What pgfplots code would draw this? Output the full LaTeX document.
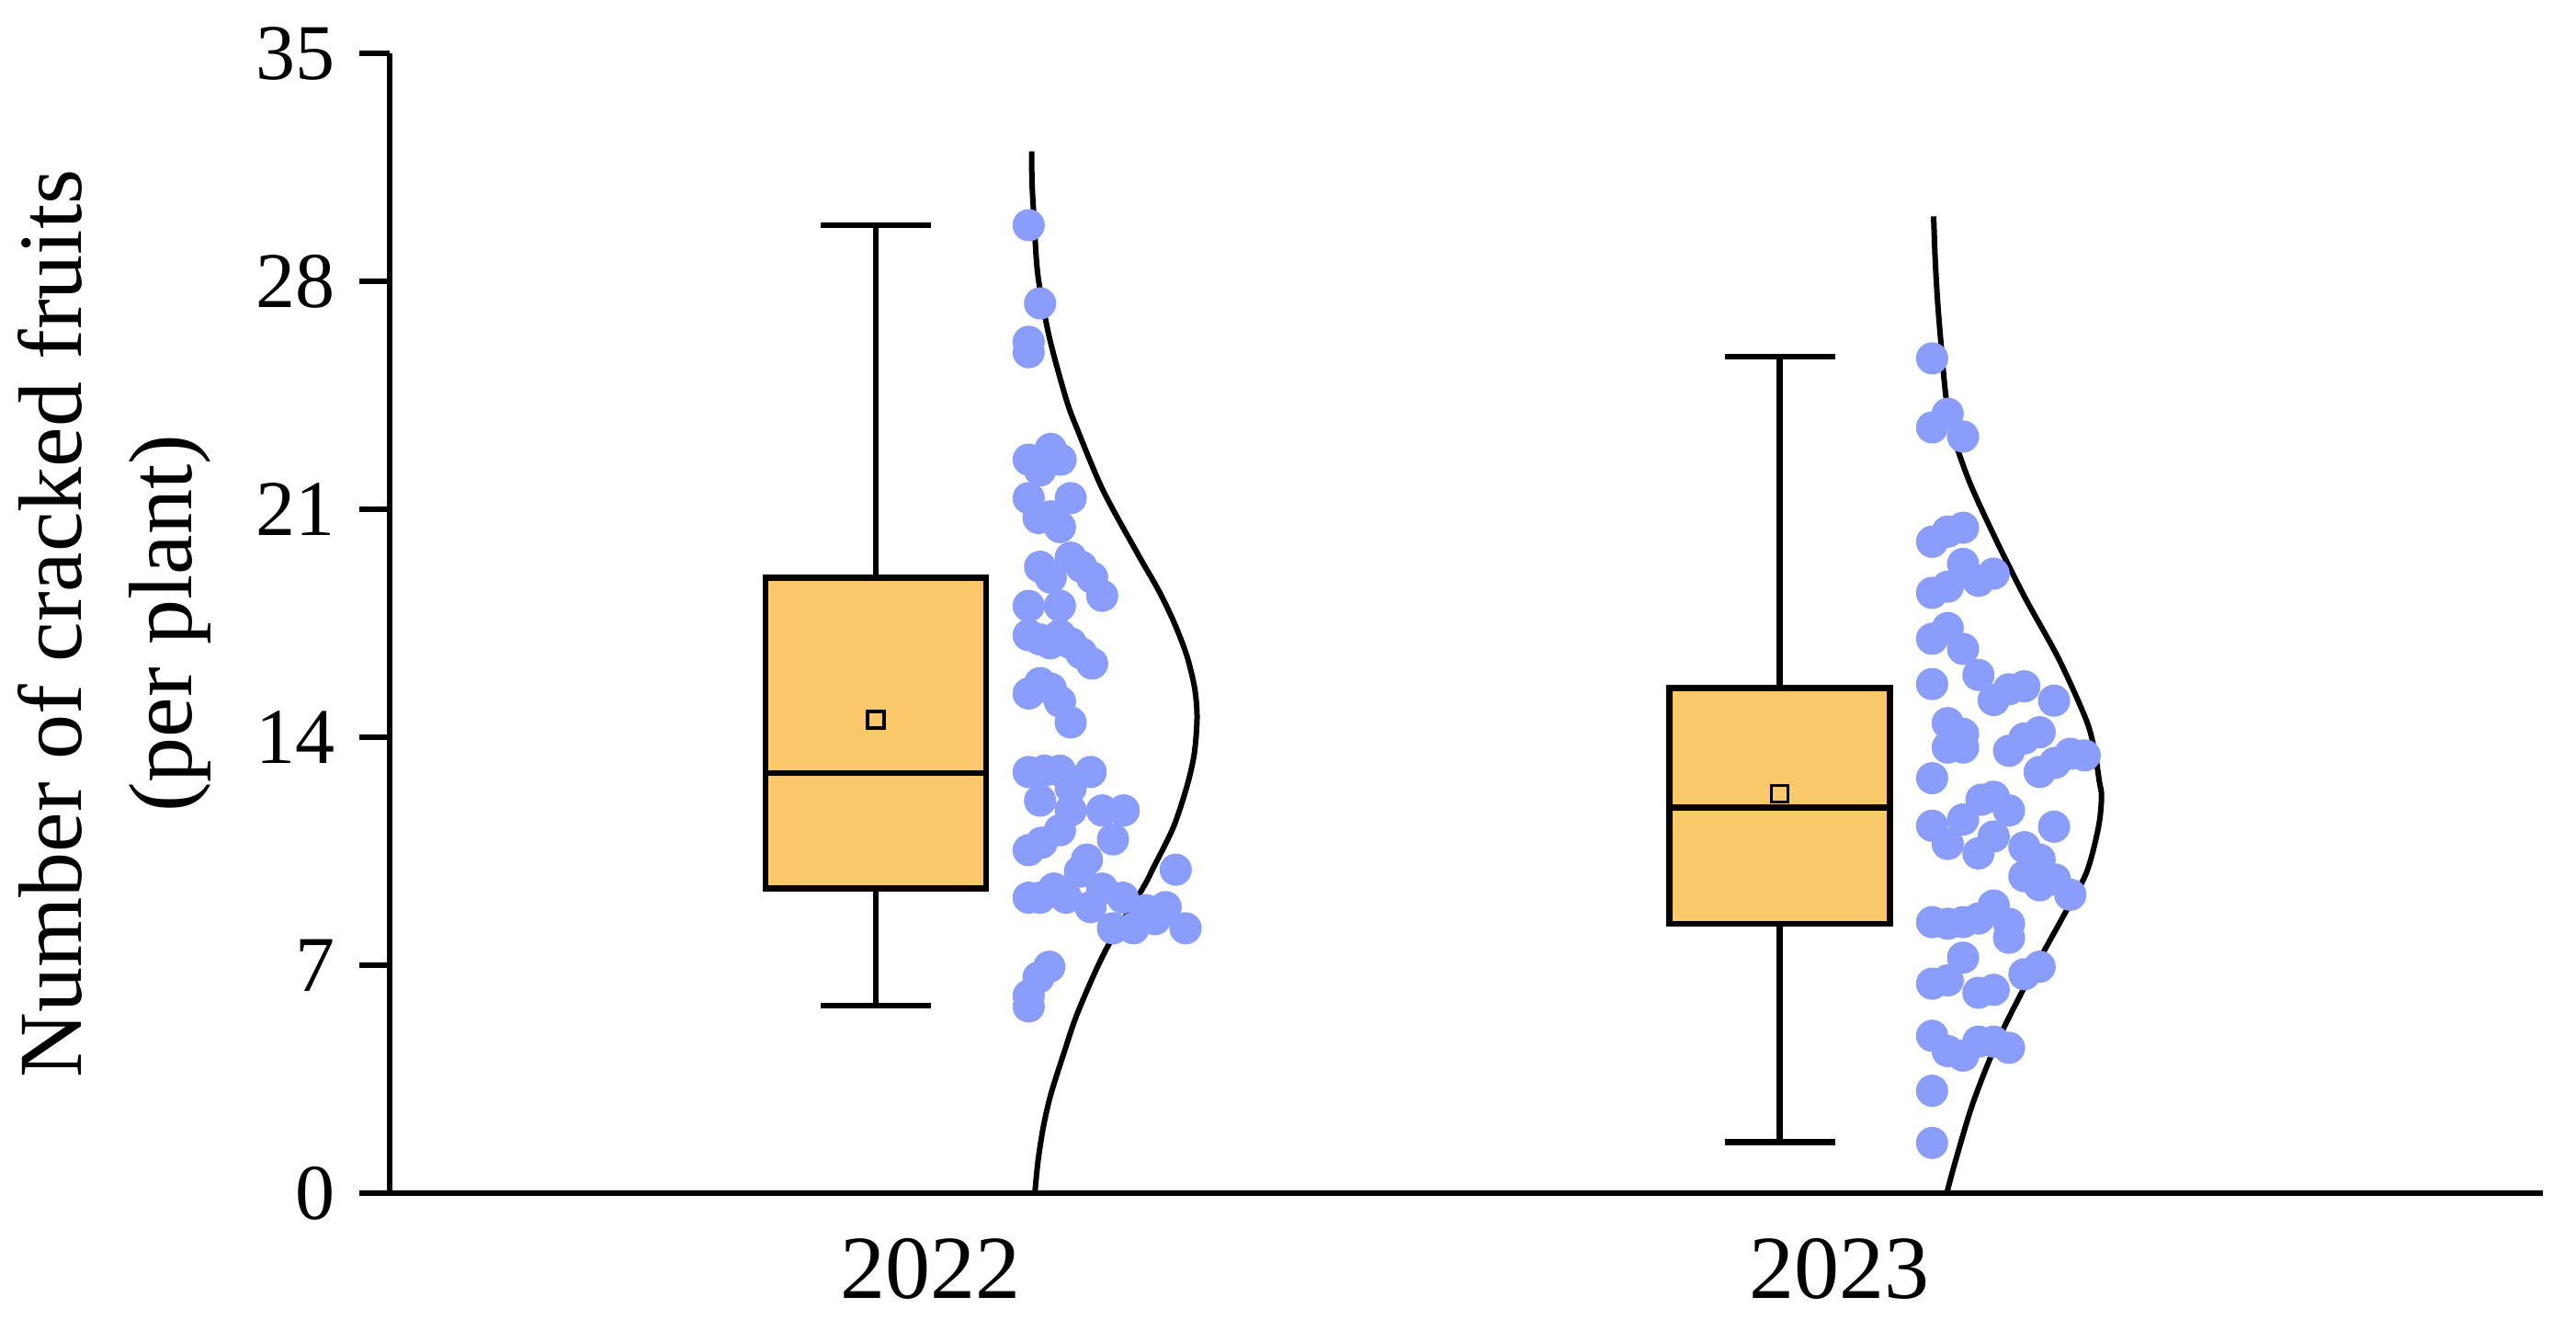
\documentclass[border=0pt]{standalone}
\usepackage{fontspec}
\setmainfont{Liberation Serif}
\usepackage{pgfplots}
\pgfplotsset{compat=1.18}
\usepackage{pgfplotstable}

\definecolor{boxorange}{HTML}{F9C86A}
\definecolor{dotblue}{HTML}{8B9DFA}

% jittered raw points, x = horizontal position (plot units), y = cracked fruits
\pgfplotstableread{
x y
1119.3 29.73
1131.7 27.33
1119.3 26.15
1119.3 25.83
1119.3 22.53
1143.3 22.86
1154.0 22.53
1131.7 22.20
1119.3 21.35
1165.0 21.35
1130.0 20.74
1143.3 20.79
1153.3 20.46
1131.7 19.24
1143.3 18.91
1165.0 19.52
1176.7 19.24
1188.3 18.91
1199.3 18.35
1119.3 18.04
1153.3 18.04
1119.3 17.14
1131.7 17.01
1142.7 16.89
1153.3 17.14
1165.3 16.89
1176.7 16.58
1188.3 16.27
1119.3 15.35
1131.7 15.67
1143.3 15.50
1153.3 15.10
1165.0 14.46
1119.3 12.94
1136.7 12.98
1153.3 12.98
1186.7 12.94
1165.0 12.46
1131.7 12.06
1165.0 11.76
1199.3 11.76
1222.7 11.76
1211.0 10.87
1153.3 11.15
1133.3 10.77
1119.3 10.54
1182.7 10.25
1175.0 9.88
1119.3 9.08
1131.7 9.08
1146.7 9.36
1160.0 9.08
1186.7 8.79
1199.3 9.36
1221.7 9.08
1211.0 8.14
1233.3 8.14
1246.7 8.70
1256.7 8.42
1268.3 8.79
1290.0 8.14
1279.3 9.94
1141.7 6.96
1130.0 6.63
1119.3 6.07
1119.3 5.74
}\dotsA

\pgfplotstableread{
x y
2102.3 25.64
2119.3 23.94
2102.3 23.52
2136.0 23.24
2102.3 20.01
2119.3 20.32
2136.0 20.44
2136.0 19.33
2152.7 18.81
2169.3 19.03
2119.3 18.63
2102.3 18.44
2102.3 17.03
2119.3 17.36
2136.0 16.72
2152.7 15.92
2102.3 15.64
2169.3 15.15
2186.0 15.48
2202.7 15.57
2235.0 15.13
2119.3 14.44
2136.0 14.11
2119.3 13.69
2136.0 13.69
2186.0 13.59
2202.7 13.97
2219.3 14.16
2219.3 12.94
2236.0 13.22
2252.7 13.50
2268.3 13.45
2102.3 12.75
2156.0 12.09
2169.3 12.18
2186.0 11.76
2136.0 11.48
2102.3 11.29
2119.3 10.73
2169.3 10.96
2152.7 10.44
2235.0 11.26
2202.7 10.63
2219.3 10.25
2202.7 9.74
2219.3 9.46
2236.0 9.64
2252.7 9.17
2102.3 8.33
2119.3 8.28
2136.0 8.33
2152.7 8.44
2169.3 8.84
2186.0 8.28
2186.0 7.85
2136.0 7.24
2119.3 6.54
2102.3 6.44
2152.7 6.16
2169.3 6.25
2202.7 6.73
2219.3 6.96
2102.3 4.84
2119.3 4.37
2136.0 4.23
2152.7 4.66
2169.3 4.66
2186.0 4.47
2102.3 3.15
2102.3 1.55
}\dotsB

\begin{document}
\begin{tikzpicture}
\useasboundingbox (-42.37pt,-13.77pt) rectangle (237.93pt,129.83pt);
\begin{axis}[
    scale only axis,
    width=234.33pt,
    height=124pt,
    xmin=423.7, xmax=2767,
    ymin=0, ymax=35,
    axis x line*=bottom,
    axis y line*=left,
    axis line style={-, line width=0.6pt},
    xtick={1012,2001},
    xticklabels={2022,2023},
    major x tick style={draw=none},
    ytick={0,7,...,35},
    tick align=outside,
    major tick length=3.3pt,
    major y tick style={line width=0.6pt, black},
    /pgf/number format/assume math mode=true,
    yticklabel style={font=\fontsize{8.6}{10}\selectfont, xshift=0.9pt},
    xticklabel style={font=\fontsize{9.8}{12}\selectfont, yshift=1.9pt},
    ylabel={Number of cracked fruits\\(per plant)},
    ylabel style={at={(axis description cs:-0.0819,0.5)}, anchor=south,
        inner sep=0pt, align=center, font=\fontsize{9.8}{12}\selectfont},
]
% boxes (Q1 to Q3), medians, whiskers
\addplot[draw=black, fill=boxorange, line width=0.65pt]
    coordinates {(833,9.36) (1073,9.36) (1073,18.9) (833,18.9)} --cycle;
\addplot[draw=black, fill=boxorange, line width=0.65pt]
    coordinates {(1816.5,8.28) (2056.5,8.28) (2056.5,15.52) (1816.5,15.52)} --cycle;
\addplot[black, line width=0.65pt] coordinates {(833,12.9) (1073,12.9)};
\addplot[black, line width=0.65pt] coordinates {(1816.5,11.85) (2056.5,11.85)};
\addplot[black, line width=0.65pt] coordinates {(953,18.9) (953,29.73)};
\addplot[black, line width=0.65pt] coordinates {(953,9.36) (953,5.77)};
\addplot[black, line width=0.65pt] coordinates {(893,29.73) (1013,29.73)};
\addplot[black, line width=0.65pt] coordinates {(893,5.77) (1013,5.77)};
\addplot[black, line width=0.65pt] coordinates {(1936.5,15.52) (1936.5,25.7)};
\addplot[black, line width=0.65pt] coordinates {(1936.5,8.28) (1936.5,1.58)};
\addplot[black, line width=0.65pt] coordinates {(1876.5,25.7) (1996.5,25.7)};
\addplot[black, line width=0.65pt] coordinates {(1876.5,1.58) (1996.5,1.58)};
% means
\addplot[only marks, mark=square, mark size=0.9pt, mark options={black, line width=0.35pt}]
    coordinates {(953,14.55) (1936.5,12.27)};
% raw points
\addplot[only marks, mark=*, mark size=1.55pt, color=dotblue] table {\dotsA};
\addplot[only marks, mark=*, mark size=1.55pt, color=dotblue] table {\dotsB};
% half violins
\addplot[black, line width=0.6pt, smooth, no marks] coordinates {
    (1122.5,32.0) (1123,31.0) (1125,30.0) (1129.3,28.2) (1141.7,26.3)
    (1160,24.4) (1171.7,23.5) (1200,21.6) (1236.7,19.7) (1261,18.5)
    (1278,17.5) (1291.5,16.5) (1300,15.5) (1302.5,14.6) (1299.5,13.5)
    (1291.5,12.5) (1276.7,11.24) (1255,10.0) (1243.3,9.36) (1203.3,7.48)
    (1173.3,5.6) (1157.3,4.28) (1143,3.0) (1135,2.0) (1129.5,1.0) (1126,0)
};
\addplot[black, line width=0.6pt, smooth, no marks] coordinates {
    (2104,30.0) (2106,28.5) (2110,26.77) (2120,23.94) (2140,22.06)
    (2170,20.18) (2203.3,18.3) (2240,16.42) (2270,14.54) (2279,13.6)
    (2284.3,12.65) (2286.7,12.18) (2283.3,11.24) (2270,9.83) (2243.3,8.42)
    (2206.7,6.54) (2173.3,4.66) (2146.7,2.77) (2126.7,0.89) (2118.3,0)
};
\end{axis}
\end{tikzpicture}
\end{document}
